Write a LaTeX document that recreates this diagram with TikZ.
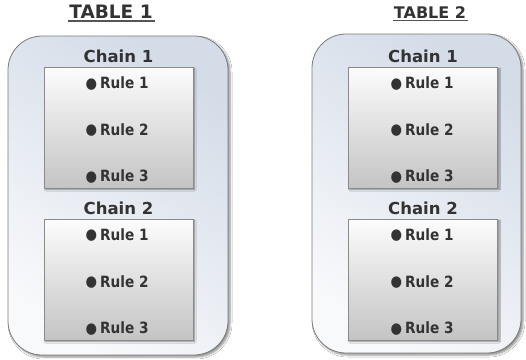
\documentclass[tikz,border=0pt]{standalone}
\usepackage{fontspec}
\setmainfont{DejaVu Sans}
\newfontfamily\rulefont[FakeStretch=0.88]{DejaVu Sans}
\usetikzlibrary{shadows.blur}

\definecolor{txt}{HTML}{333333}
\definecolor{panelA}{HTML}{D4DCE8}
\definecolor{panelB}{HTML}{F8F9FB}
\definecolor{panelEdge}{HTML}{7A7A7A}
\definecolor{boxTop}{HTML}{FCFCFC}
\definecolor{boxBot}{HTML}{C4C4C4}
\definecolor{boxEdge}{HTML}{8A8A8A}
\definecolor{lineCol}{HTML}{555555}

\tikzset{
  panel/.style={draw=panelEdge, line width=0.8pt, rounded corners=34pt,
    top color=panelA, bottom color=panelB, shading angle=-35,
    inner sep=0pt,
    blur shadow={shadow xshift=2pt, shadow yshift=-2pt, shadow blur steps=6,
      shadow blur radius=2pt, shadow opacity=45}},
  rulebox/.style={draw=boxEdge, line width=0.8pt,
    top color=boxTop, bottom color=boxBot, inner sep=0pt,
    minimum width=149pt, minimum height=121pt,
    blur shadow={shadow xshift=1.5pt, shadow yshift=-1.5pt, shadow blur steps=4,
      shadow blur radius=1.5pt, shadow opacity=45}},
  heading/.style={text=txt, inner sep=0pt, anchor=base,
    font=\bfseries\fontsize{#1}{#1}\selectfont},
  chainlabel/.style={text=txt, inner sep=0pt, anchor=base,
    font=\bfseries\fontsize{16.5}{18}\selectfont},
  ruleitem/.style={text=txt, inner sep=0pt, anchor=base west,
    font=\rulefont\bfseries\fontsize{15.5}{17}\selectfont},
  underline/.style={draw=lineCol, line width=1.2pt},
}

% bullet placed to the left of a rule's name
\newcommand{\ruledot}{\llap{\raisebox{0.2pt}{\fontsize{15}{15}\selectfont\char"25CF}\hspace{3pt}}}

\begin{document}
\begin{tikzpicture}[x=1pt, y=-1pt]
  \useasboundingbox[fill=white] (0,0) rectangle (526,359);

  % table headings
  \node[heading=18.5] (h1) at (111,18) {TABLE 1};
  \node[heading=16] (h2) at (430,18) {TABLE 2};
  \draw[underline] ([xshift=-1pt, yshift=-3pt]h1.base west) -- ([xshift=2pt, yshift=-3pt]h1.base east);
  \draw[underline] ([xshift=-1pt, yshift=-2.5pt]h2.base west) -- ([xshift=2pt, yshift=-2.5pt]h2.base east);

  % table panels
  \node[panel, minimum width=220pt, minimum height=319pt] (p1) at (118,195.5) {};
  \node[panel, minimum width=209pt, minimum height=319pt] (p2) at (416.5,193.5) {};

  % chains of table 1
  \node[rulebox] (a1) at (118.5,127.5) {};
  \node[rulebox] (a2) at (118.5,279.5) {};
  \node[chainlabel] (a1l) at (118.5,62) {Chain 1};
  \node[chainlabel] (a2l) at (118.5,214) {Chain 2};
  \node[ruleitem] (a1r1) at (100,88.5) {\ruledot Rule 1};
  \node[ruleitem] (a1r2) at (100,135) {\ruledot Rule 2};
  \node[ruleitem] (a1r3) at (100,181.5) {\ruledot Rule 3};
  \node[ruleitem] (a2r1) at (100,240) {\ruledot Rule 1};
  \node[ruleitem] (a2r2) at (100,287) {\ruledot Rule 2};
  \node[ruleitem] (a2r3) at (100,333.5) {\ruledot Rule 3};

  % chains of table 2
  \node[rulebox] (b1) at (423,127.5) {};
  \node[rulebox] (b2) at (423,279.5) {};
  \node[chainlabel] (b1l) at (423,62) {Chain 1};
  \node[chainlabel] (b2l) at (423,214) {Chain 2};
  \node[ruleitem] (b1r1) at (405,88.5) {\ruledot Rule 1};
  \node[ruleitem] (b1r2) at (405,135) {\ruledot Rule 2};
  \node[ruleitem] (b1r3) at (405,181.5) {\ruledot Rule 3};
  \node[ruleitem] (b2r1) at (405,240) {\ruledot Rule 1};
  \node[ruleitem] (b2r2) at (405,287) {\ruledot Rule 2};
  \node[ruleitem] (b2r3) at (405,333.5) {\ruledot Rule 3};
\end{tikzpicture}
\end{document}
